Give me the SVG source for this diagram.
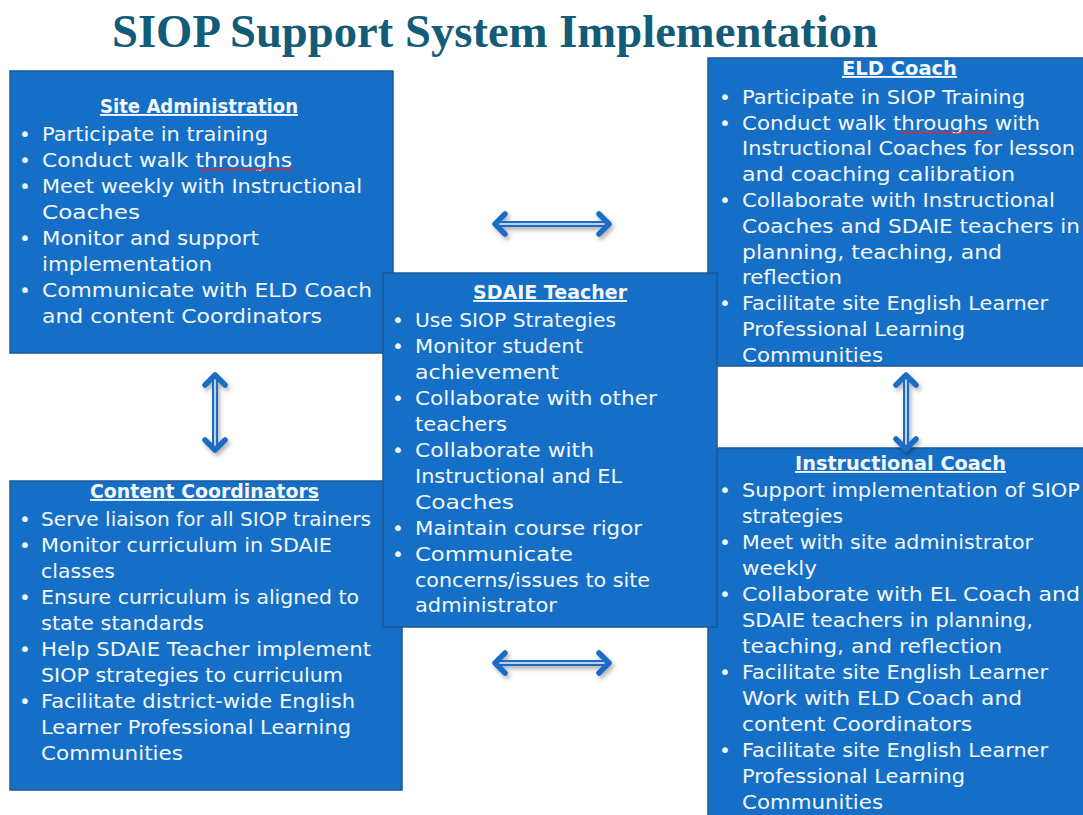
<svg xmlns="http://www.w3.org/2000/svg" width="1083" height="815" viewBox="0 0 1083 815" xml:space="preserve">
<style>
.box{fill:#166fc6;stroke:#1d5896;stroke-width:1.5}
.t{font-family:"DejaVu Sans","Liberation Sans",sans-serif;font-size:20px;fill:#f3f7fc;white-space:pre}
.h{font-weight:bold;text-decoration:underline;text-anchor:middle;font-size:19px}
.b{text-anchor:middle}
.title{font-family:"Liberation Serif",serif;font-weight:bold;font-size:47px;fill:#125c7a}
.sq{fill:url(#squig)}
.shaft{stroke:#1e6cc3;stroke-width:6;fill:none}
.inner{stroke:#b6d0ee;stroke-width:2;fill:none;marker-start:url(#head);marker-end:url(#head)}
</style>
<defs>
<pattern id="squig" x="0" y="0" width="4" height="3" patternUnits="userSpaceOnUse">
<polyline points="0,0.6 2,2.4 4,0.6" fill="none" stroke="#e0262b" stroke-width="1.2"/>
</pattern>
<marker id="head" markerUnits="userSpaceOnUse" viewBox="-16 -14 22 28" refX="0" refY="0" markerWidth="22" markerHeight="28" orient="auto-start-reverse">
<path d="M-11,-10 L-1,0 L-11,10" fill="none" stroke="#1e6cc3" stroke-width="5.5" stroke-linecap="round" stroke-linejoin="round"/>
</marker>
<filter id="shadow" x="-30%" y="-30%" width="160%" height="160%">
<feDropShadow dx="2" dy="3" stdDeviation="2" flood-color="#000" flood-opacity="0.3"/>
</filter>
</defs>
<rect width="1083" height="815" fill="#ffffff"/>
<text class="title" x="112" y="47" textLength="766" lengthAdjust="spacingAndGlyphs">SIOP Support System Implementation</text>

<g id="eld-coach">
<rect class="box" x="708" y="58" width="382" height="308"/>
<text class="t h" x="899.5" y="75" textLength="115" lengthAdjust="spacingAndGlyphs">ELD Coach</text>
<g class="t">
<text class="b" x="725" y="104">•</text>
<text class="b" x="725" y="130">•</text>
<text class="b" x="725" y="207">•</text>
<text class="b" x="725" y="310">•</text>
<text x="742" y="104" textLength="283" lengthAdjust="spacingAndGlyphs">Participate in SIOP Training</text>
<text x="742" y="130" textLength="298" lengthAdjust="spacingAndGlyphs">Conduct walk throughs with</text>
<text x="742" y="155" textLength="333" lengthAdjust="spacingAndGlyphs">Instructional Coaches for lesson</text>
<text x="742" y="181" textLength="273" lengthAdjust="spacingAndGlyphs">and coaching calibration</text>
<text x="742" y="207" textLength="313" lengthAdjust="spacingAndGlyphs">Collaborate with Instructional</text>
<text x="742" y="233" textLength="338" lengthAdjust="spacingAndGlyphs">Coaches and SDAIE teachers in</text>
<text x="742" y="259" textLength="260" lengthAdjust="spacingAndGlyphs">planning, teaching, and</text>
<text x="742" y="284" textLength="100" lengthAdjust="spacingAndGlyphs">reflection</text>
<text x="742" y="310" textLength="306" lengthAdjust="spacingAndGlyphs">Facilitate site  English Learner</text>
<text x="742" y="336" textLength="223" lengthAdjust="spacingAndGlyphs">Professional Learning</text>
<text x="742" y="362" textLength="141" lengthAdjust="spacingAndGlyphs">Communities</text>
</g>
<rect class="sq" x="900" y="131" width="94" height="3"/>
</g>

<g id="instructional-coach">
<rect class="box" x="708" y="448" width="382" height="380"/>
<text class="t h" x="900.5" y="470" textLength="211" lengthAdjust="spacingAndGlyphs">Instructional Coach</text>
<g class="t">
<text class="b" x="725" y="497">•</text>
<text class="b" x="725" y="549">•</text>
<text class="b" x="725" y="601">•</text>
<text class="b" x="725" y="679">•</text>
<text class="b" x="725" y="757">•</text>
<text x="742" y="497" textLength="338" lengthAdjust="spacingAndGlyphs">Support implementation of SIOP</text>
<text x="742" y="523" textLength="101" lengthAdjust="spacingAndGlyphs">strategies</text>
<text x="742" y="549" textLength="291" lengthAdjust="spacingAndGlyphs">Meet with site administrator</text>
<text x="742" y="575" textLength="75" lengthAdjust="spacingAndGlyphs">weekly</text>
<text x="742" y="601" textLength="338" lengthAdjust="spacingAndGlyphs">Collaborate with EL Coach and</text>
<text x="742" y="627" textLength="291" lengthAdjust="spacingAndGlyphs">SDAIE teachers in planning,</text>
<text x="742" y="653" textLength="260" lengthAdjust="spacingAndGlyphs">teaching, and reflection</text>
<text x="742" y="679" textLength="306" lengthAdjust="spacingAndGlyphs">Facilitate site  English Learner</text>
<text x="742" y="705" textLength="280" lengthAdjust="spacingAndGlyphs">Work with ELD Coach and</text>
<text x="742" y="731" textLength="230" lengthAdjust="spacingAndGlyphs">content Coordinators</text>
<text x="742" y="757" textLength="306" lengthAdjust="spacingAndGlyphs">Facilitate site  English Learner</text>
<text x="742" y="783" textLength="223" lengthAdjust="spacingAndGlyphs">Professional Learning</text>
<text x="742" y="809" textLength="141" lengthAdjust="spacingAndGlyphs">Communities</text>
</g>
</g>

<g id="site-administration">
<rect class="box" x="10" y="71" width="383" height="282"/>
<text class="t h" x="199" y="113" textLength="198" lengthAdjust="spacingAndGlyphs">Site Administration</text>
<g class="t">
<text class="b" x="25" y="141">•</text>
<text class="b" x="25" y="167">•</text>
<text class="b" x="25" y="193">•</text>
<text class="b" x="25" y="245">•</text>
<text class="b" x="25" y="297">•</text>
<text x="42" y="141" textLength="226" lengthAdjust="spacingAndGlyphs">Participate in training</text>
<text x="42" y="167" textLength="250" lengthAdjust="spacingAndGlyphs">Conduct walk throughs</text>
<text x="42" y="193" textLength="320" lengthAdjust="spacingAndGlyphs">Meet weekly with Instructional</text>
<text x="42" y="219" textLength="98" lengthAdjust="spacingAndGlyphs">Coaches</text>
<text x="42" y="245" textLength="217" lengthAdjust="spacingAndGlyphs">Monitor and support</text>
<text x="42" y="271" textLength="170" lengthAdjust="spacingAndGlyphs">implementation</text>
<text x="42" y="297" textLength="330" lengthAdjust="spacingAndGlyphs">Communicate with ELD Coach</text>
<text x="42" y="323" textLength="280" lengthAdjust="spacingAndGlyphs">and content Coordinators</text>
</g>
<rect class="sq" x="200" y="168" width="93" height="3"/>
</g>

<g id="content-coordinators">
<rect class="box" x="10" y="481" width="392" height="309"/>
<text class="t h" x="204.5" y="498" textLength="229" lengthAdjust="spacingAndGlyphs">Content Coordinators</text>
<g class="t">
<text class="b" x="25" y="526">•</text>
<text class="b" x="25" y="552">•</text>
<text class="b" x="25" y="604">•</text>
<text class="b" x="25" y="656">•</text>
<text class="b" x="25" y="708">•</text>
<text x="41" y="526" textLength="330" lengthAdjust="spacingAndGlyphs">Serve liaison for all SIOP trainers</text>
<text x="41" y="552" textLength="291" lengthAdjust="spacingAndGlyphs">Monitor curriculum in SDAIE</text>
<text x="41" y="578" textLength="74" lengthAdjust="spacingAndGlyphs">classes</text>
<text x="41" y="604" textLength="318" lengthAdjust="spacingAndGlyphs">Ensure curriculum is aligned to</text>
<text x="41" y="630" textLength="163" lengthAdjust="spacingAndGlyphs">state standards</text>
<text x="41" y="656" textLength="330" lengthAdjust="spacingAndGlyphs">Help SDAIE Teacher implement</text>
<text x="41" y="682" textLength="302" lengthAdjust="spacingAndGlyphs">SIOP strategies to curriculum</text>
<text x="41" y="708" textLength="314" lengthAdjust="spacingAndGlyphs">Facilitate district-wide  English</text>
<text x="41" y="734" textLength="310" lengthAdjust="spacingAndGlyphs">Learner Professional Learning</text>
<text x="41" y="760" textLength="142" lengthAdjust="spacingAndGlyphs">Communities</text>
</g>
</g>

<g id="sdaie-teacher">
<rect class="box" x="383" y="273" width="334" height="354"/>
<text class="t h" x="550" y="299" textLength="154" lengthAdjust="spacingAndGlyphs">SDAIE Teacher</text>
<g class="t">
<text class="b" x="398" y="327">•</text>
<text class="b" x="398" y="353">•</text>
<text class="b" x="398" y="405">•</text>
<text class="b" x="398" y="457">•</text>
<text class="b" x="398" y="535">•</text>
<text class="b" x="398" y="561">•</text>
<text x="415" y="327" textLength="201" lengthAdjust="spacingAndGlyphs">Use SIOP Strategies</text>
<text x="415" y="353" textLength="168" lengthAdjust="spacingAndGlyphs">Monitor student</text>
<text x="415" y="379" textLength="144" lengthAdjust="spacingAndGlyphs">achievement</text>
<text x="415" y="405" textLength="242" lengthAdjust="spacingAndGlyphs">Collaborate with other</text>
<text x="415" y="431" textLength="92" lengthAdjust="spacingAndGlyphs">teachers</text>
<text x="415" y="457" textLength="179" lengthAdjust="spacingAndGlyphs">Collaborate with</text>
<text x="415" y="483" textLength="207" lengthAdjust="spacingAndGlyphs">Instructional and EL</text>
<text x="415" y="509" textLength="99" lengthAdjust="spacingAndGlyphs">Coaches</text>
<text x="415" y="535" textLength="227" lengthAdjust="spacingAndGlyphs">Maintain course rigor</text>
<text x="415" y="561" textLength="158" lengthAdjust="spacingAndGlyphs">Communicate</text>
<text x="415" y="587" textLength="235" lengthAdjust="spacingAndGlyphs">concerns/issues to site</text>
<text x="415" y="612" textLength="142" lengthAdjust="spacingAndGlyphs">administrator</text>
</g>
</g>

<g id="connectors" filter="url(#shadow)">
<line class="shaft" x1="496" y1="224" x2="608" y2="224"/>
<line class="inner" x1="494" y1="224" x2="610" y2="224"/>
<line class="shaft" x1="496" y1="663" x2="608" y2="663"/>
<line class="inner" x1="494" y1="663" x2="610" y2="663"/>
<line class="shaft" x1="215" y1="376" x2="215" y2="449"/>
<line class="inner" x1="215" y1="374" x2="215" y2="451"/>
<line class="shaft" x1="906" y1="376" x2="906" y2="448"/>
<line class="inner" x1="906" y1="374" x2="906" y2="450"/>
</g>
</svg>
